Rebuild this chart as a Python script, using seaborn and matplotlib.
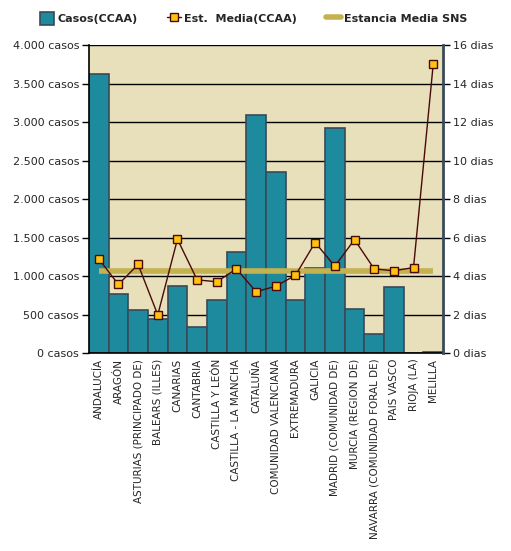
import numpy as np
import seaborn as sns
import matplotlib.pyplot as plt
from matplotlib.patches import Patch
from matplotlib.lines import Line2D

# ---- Data
regiones = ['ANDALUCÍA', 'ARAGÓN', 'ASTURIAS (PRINCIPADO DE)', 'BALEARS (ILLES)',
            'CANARIAS', 'CANTABRIA', 'CASTILLA Y LEÓN', 'CASTILLA - LA MANCHA',
            'CATALUÑA', 'COMUNIDAD VALENCIANA', 'EXTREMADURA', 'GALICIA',
            'MADRID (COMUNIDAD DE)', 'MURCIA (REGION DE)', 'NAVARRA (COMUNIDAD FORAL DE)',
            'PAIS VASCO', 'RIOJA (LA)', 'MELILLA']
casos = [3632, 775, 567, 450, 879, 346, 697, 1320, 3087, 2347, 697, 1100,
         2918, 580, 243, 866, 3, 12]
estancia_media = [4.90, 3.57, 4.61, 1.99, 5.92, 3.81, 3.71, 4.38, 3.19, 3.48,
                  4.05, 5.75, 4.52, 5.90, 4.38, 4.28, 4.45, 15.0]
estancia_sns = 4.28

left_ticks = [0, 500, 1000, 1500, 2000, 2500, 3000, 3500, 4000]
left_labels = ['0 casos', '500 casos', '1.000 casos', '1.500 casos', '2.000 casos',
               '2.500 casos', '3.000 casos', '3.500 casos', '4.000 casos']
right_ticks = [0, 2, 4, 6, 8, 10, 12, 14, 16]
right_labels = [f'{t} dias' for t in right_ticks]

bar_color = '#1E8A9E'
bar_edge = '#3A4A58'
line_color = '#4A0A0A'
marker_color = '#FFC20E'
sns_color = '#C4B250'
bg_color = '#E8DFBB'

sns.set_style('white')
plt.rcParams['font.family'] = ['DejaVu Sans']

fig = plt.figure(figsize=(5.11, 5.51), dpi=100)
ax = fig.add_axes([0.174, 0.359, 0.693, 0.559])
ax.set_facecolor(bg_color)

sns.barplot(x=regiones, y=casos, color=bar_color, edgecolor=bar_edge,
            linewidth=1.2, width=1.0, saturation=1, ax=ax, zorder=2)
ax.set_ylim(0, 4000)
ax.set_xlim(-0.5, len(regiones) - 0.5)
ax.set_yticks(left_ticks)
ax.set_yticklabels(left_labels, fontsize=8)
ax.yaxis.grid(True, color='black', linewidth=1.0, zorder=1)
ax.set_axisbelow(True)
ax.set_xticks(np.arange(len(regiones)))
ax.set_xticklabels(regiones, rotation=90, fontsize=7.5)
ax.tick_params(axis='x', length=0, pad=4)
# ticks between categories
ax.set_xticks(np.arange(len(regiones) + 1) - 0.5, minor=True)
ax.tick_params(axis='x', which='minor', length=5, width=1, color='black', direction='out')
ax.tick_params(axis='y', length=5, width=1, color='black', direction='out', pad=2)
for s in ['left', 'bottom']:
    ax.spines[s].set_color('black')
    ax.spines[s].set_linewidth(1.2)
ax.spines['top'].set_visible(False)
ax.spines['right'].set_visible(False)
ax.set_xlabel('')
ax.set_ylabel('')

ax2 = ax.twinx()
x = np.arange(len(regiones))
ax2.hlines(estancia_sns, x[0], x[-1], color=sns_color, linewidth=4, zorder=3)
ax2.plot(x, estancia_media, color=line_color, linewidth=1, marker='s', markersize=6,
         markerfacecolor=marker_color, markeredgecolor=line_color, markeredgewidth=1, zorder=4)
ax2.set_ylim(0, 16)
ax2.set_yticks(right_ticks)
ax2.set_yticklabels(right_labels, fontsize=8)
ax2.tick_params(axis='y', length=5, width=1, color='black', direction='out', pad=2)
ax2.spines['right'].set_color('#3A4A58')
ax2.spines['right'].set_linewidth(2)
for s in ['top', 'left', 'bottom']:
    ax2.spines[s].set_visible(False)

handles = [
    Patch(facecolor=bar_color, edgecolor=bar_edge, linewidth=1.2, label='Casos(CCAA)'),
    Line2D([0], [0], color=line_color, linewidth=1, marker='s', markersize=6,
           markerfacecolor=marker_color, markeredgecolor=line_color, label='Est.  Media(CCAA)'),
    Line2D([0], [0], color=sns_color, linewidth=4, label='Estancia Media SNS'),
]
fig.legend(handles=handles, loc='center left', bbox_to_anchor=(0.058, 0.967), ncol=3,
           frameon=False, prop={'weight': 'bold', 'size': 8}, handlelength=1.3,
           handleheight=1.4, handletextpad=0.3, columnspacing=2.6)

fig.savefig('out.png', dpi=100, facecolor='white')
